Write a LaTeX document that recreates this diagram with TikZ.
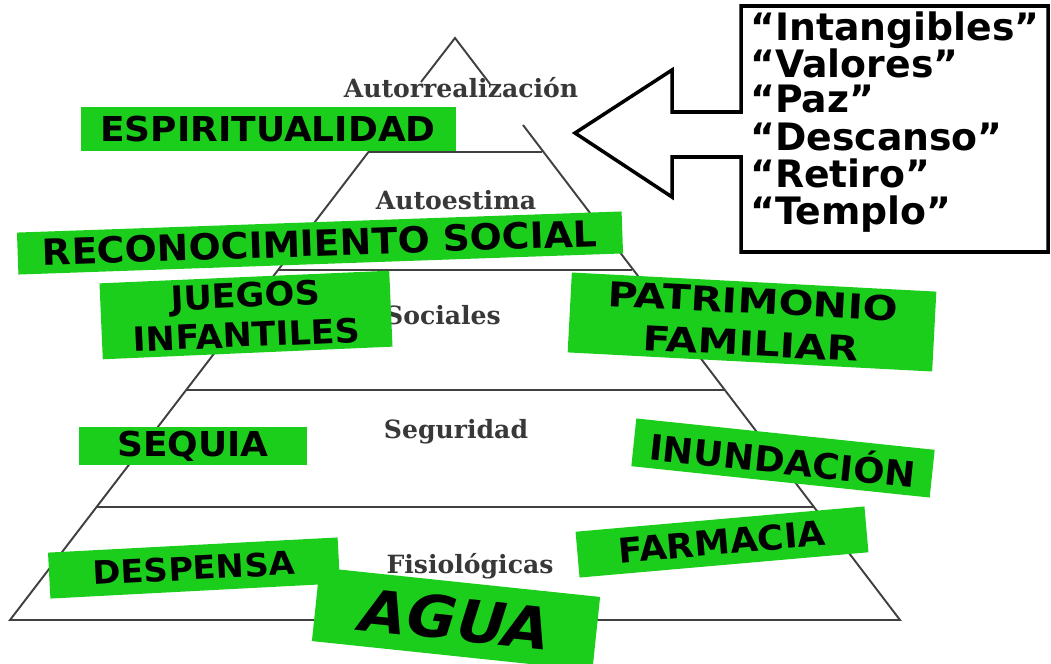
\documentclass[tikz,border=0pt]{standalone}
\usepackage{fontspec}
\newfontfamily\comic[FakeStretch=1.05]{DejaVu Sans}
\newfontfamily\comicw[FakeStretch=1.2]{DejaVu Sans}
\newfontfamily\comicq{DejaVu Sans}
\newfontfamily\lblfont{DejaVu Serif}
\definecolor{boxgreen}{RGB}{28,206,28}
\newcommand{\gsize}[1]{\comic\bfseries\fontsize{#1}{#1}\selectfont}
\tikzset{
  gbox/.style={fill=boxgreen, inner sep=0pt, align=center, text=black,
    font=\gsize{19}},
  lvl/.style={font=\lblfont\bfseries\fontsize{14.3}{16}\selectfont, text=black!78},
  pyr/.style={draw=black!75, line width=1.1pt},
  quoteline/.style={anchor=base west, inner sep=0pt, font=\comicq\bfseries\fontsize{21.5}{23}\selectfont},
  callout/.style={draw=black, line width=2pt, line join=miter, fill=white},
}
\begin{document}
\begin{tikzpicture}[x=0.02cm,y=-0.02cm]
\useasboundingbox (0,0) rectangle (1051,663);
% pyramid coordinates
\coordinate (apex) at (455,38);
\coordinate (lgap) at (421,82);
\coordinate (rgap) at (490,84);
\coordinate (lstart) at (370,150);
\coordinate (rstart) at (523,125);
\coordinate (bl) at (10,620);
\coordinate (br) at (900,620);
\coordinate (h1l) at (367.8,152); \coordinate (h1r) at (542.2,152);
\coordinate (h2l) at (277.6,270); \coordinate (h2r) at (632.4,270);
\coordinate (h3l) at (185.9,390); \coordinate (h3r) at (724.1,390);
\coordinate (h4l) at (96.4,507);  \coordinate (h4r) at (813.6,507);
\draw[pyr] (lgap) -- (apex) -- (rgap);
\draw[pyr] (lstart) -- (bl) -- (br) -- (rstart);
\draw[pyr] (h1l) -- (h1r);
\draw[pyr] (h2l) -- (h2r);
\draw[pyr] (h3l) -- (h3r);
\draw[pyr] (h4l) -- (h4r);
% level labels
\node[lvl] (l1) at (461,88) {Autorrealización};
\node[lvl] (l2) at (456,200) {Autoestima};
\node[lvl] (l3) at (443,315) {Sociales};
\node[lvl] (l4) at (456,432) {Seguridad};
\node[lvl] (l5) at (470,566) {Fisiológicas};
% green boxes
\node[gbox, minimum width=375*0.02cm, minimum height=44*0.02cm, font=\gsize{19.5}] (b1) at (268,129) {ESPIRITUALIDAD};
\node[gbox, rotate=2, minimum width=605*0.02cm, minimum height=42*0.02cm, font=\gsize{20.5}] (b2) at (320,243) {RECONOCIMIENTO SOCIAL};
\node[gbox, rotate=2.5, minimum width=290*0.02cm, minimum height=76*0.02cm, font=\comic\bfseries\fontsize{19}{22.5}\selectfont] (b3) at (246,315) {JUEGOS\\INFANTILES};
\node[gbox, rotate=-3, minimum width=365*0.02cm, minimum height=80*0.02cm, font=\comicw\bfseries\fontsize{19.5}{24}\selectfont] (b4) at (752,322) {PATRIMONIO\\FAMILIAR};
\node[gbox, minimum width=228*0.02cm, minimum height=38*0.02cm, font=\gsize{19.5}] (b5) at (193,446) {SEQUIA};
\node[gbox, rotate=-6, minimum width=300*0.02cm, minimum height=48*0.02cm, font=\gsize{20}] (b6) at (783,458) {INUNDACIÓN};
\node[gbox, rotate=5, minimum width=290*0.02cm, minimum height=46*0.02cm, font=\gsize{19.5}] (b7) at (722,542) {FARMACIA};
\node[gbox, rotate=3, minimum width=290*0.02cm, minimum height=46*0.02cm, font=\gsize{18.3}] (b8) at (194,568) {DESPENSA};
\node[gbox, rotate=-6, minimum width=282*0.02cm, minimum height=74*0.02cm, font=\comic\bfseries\itshape\fontsize{33}{34}\selectfont] (b9) at (456,619) {AGUA};
% callout
\coordinate (c1) at (741,6);
\coordinate (c2) at (741,112);
\coordinate (c3) at (672,112);
\coordinate (c4) at (672,70);
\coordinate (tip) at (575,133);
\coordinate (c5) at (672,197);
\coordinate (c6) at (672,157);
\coordinate (c7) at (741,157);
\coordinate (c8) at (741,252);
\coordinate (c9) at (1048,252);
\coordinate (c10) at (1048,6);
\draw[callout] (c1) -- (c2) -- (c3) -- (c4) -- (tip) -- (c5) -- (c6) -- (c7) -- (c8) -- (c9) -- (c10) -- cycle;
\node[quoteline] (q1) at (750,40) {“Intangibles”};
\node[quoteline] (q2) at (750,77) {“Valores”};
\node[quoteline] (q3) at (750,112) {“Paz”};
\node[quoteline] (q4) at (750,150) {“Descanso”};
\node[quoteline] (q5) at (750,187) {“Retiro”};
\node[quoteline] (q6) at (750,224) {“Templo”};
\end{tikzpicture}
\end{document}
